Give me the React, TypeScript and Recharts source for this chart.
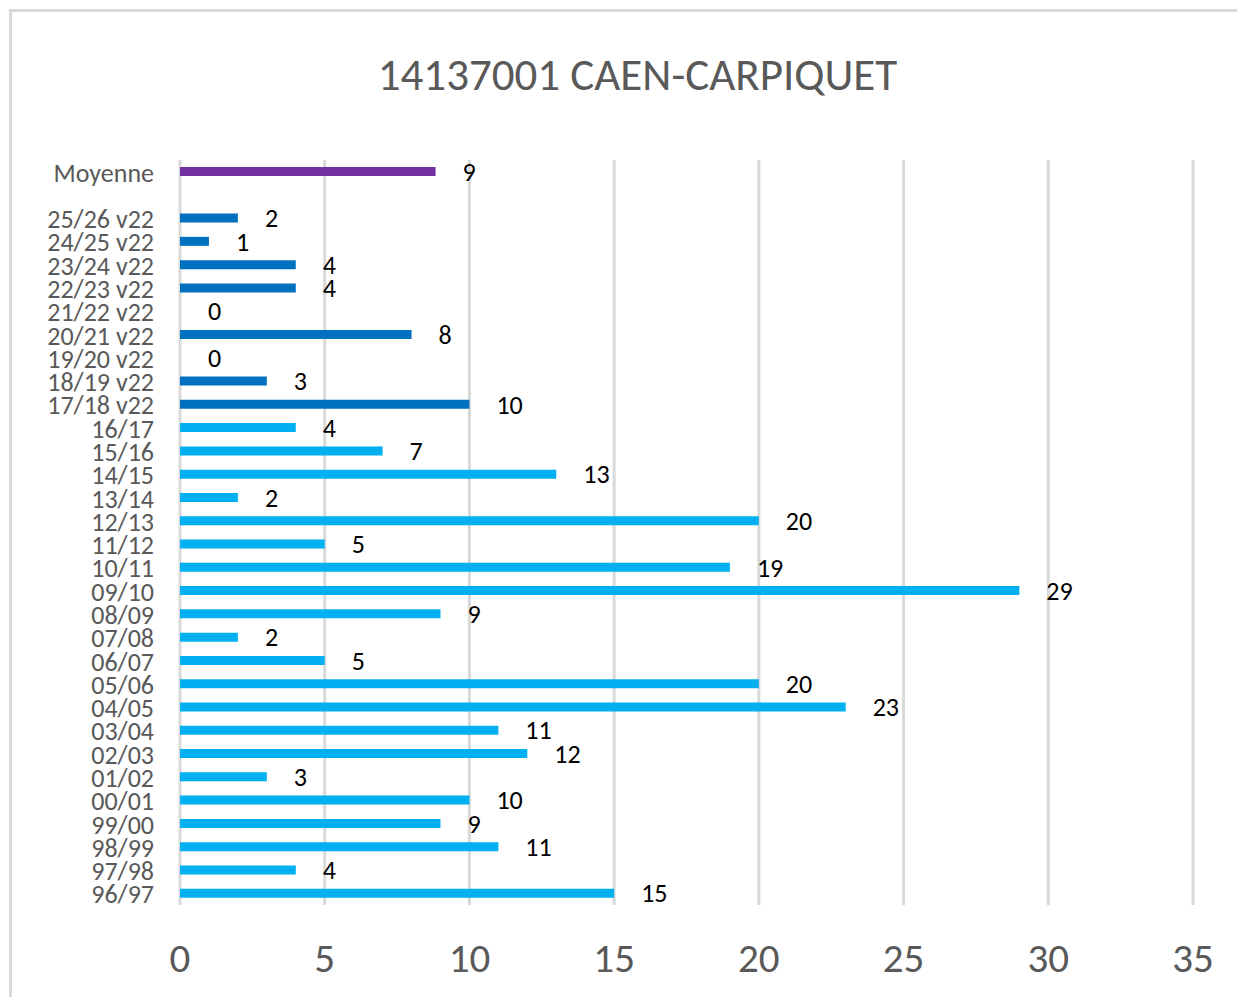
import React from 'react';
import {
  BarChart, Bar, XAxis, YAxis, CartesianGrid, Cell, LabelList,
} from 'recharts';

const seasons = [
  'Moyenne', ' ',
  '25/26 v22', '24/25 v22', '23/24 v22', '22/23 v22', '21/22 v22',
  '20/21 v22', '19/20 v22', '18/19 v22', '17/18 v22',
  '16/17', '15/16', '14/15', '13/14', '12/13', '11/12', '10/11', '09/10',
  '08/09', '07/08', '06/07', '05/06', '04/05', '03/04', '02/03', '01/02',
  '00/01', '99/00', '98/99', '97/98', '96/97',
];

const values: (number | null)[] = [
  8.83, null,
  2, 1, 4, 4, 0, 8, 0, 3, 10,
  4, 7, 13, 2, 20, 5, 19, 29, 9, 2, 5, 20, 23, 11, 12, 3, 10, 9, 11, 4, 15,
];

const xTicks = [0, 5, 10, 15, 20, 25, 30, 35];

const FONT = 'Carlito, Calibri, Lato, sans-serif';
const GREY = '#595959';

function barColor(name: string, v: number | null): string {
  if (!v) return 'transparent';
  if (name === 'Moyenne') return '#7030A0';
  if (name.includes('v22')) return '#0070C0';
  return '#00B0F0';
}

const data = seasons.map((name, i) => ({ name, value: values[i] }));

function CategoryTick(props: any) {
  const { y, payload } = props;
  return (
    <text x={154} y={y + 1} textAnchor="end" dominantBaseline="central"
      fontFamily={FONT} fontSize={26} fill={GREY}>
      {payload.value}
    </text>
  );
}

function ValueTick(props: any) {
  const { x, payload } = props;
  return (
    <text x={x} y={958} textAnchor="middle" dominantBaseline="central"
      fontFamily={FONT} fontSize={41} fill={GREY}>
      {payload.value}
    </text>
  );
}

export default function App() {
  return (
    <div style={{
      position: 'relative', margin: -8, width: 1245, height: 1005,
      overflow: 'hidden', background: '#fff',
    }}>
      <div style={{
        position: 'absolute', left: 9, top: 9, width: 1250, height: 1010,
        border: '3px solid #d9d9d9', boxSizing: 'border-box',
      }} />
      <div style={{
        position: 'absolute', left: 0, top: 48, width: 1275, textAlign: 'center',
        fontFamily: FONT, fontSize: 45, color: GREY, lineHeight: '54px',
      }}>
        14137001 CAEN-CARPIQUET
      </div>
      <BarChart
        width={1245}
        height={1005}
        data={data}
        layout="vertical"
        margin={{ top: 160, right: 52, bottom: 0, left: 0 }}
        barSize={9}
        style={{ position: 'absolute', left: 0, top: 0 }}
      >
        <CartesianGrid horizontal={false} stroke="#d9d9d9" strokeWidth={3} />
        <XAxis
          type="number"
          domain={[0, 35]}
          ticks={xTicks}
          axisLine={false}
          tickLine={false}
          height={100}
          tick={<ValueTick />}
        />
        <YAxis
          type="category"
          dataKey="name"
          width={180}
          axisLine={false}
          tickLine={false}
          interval={0}
          tick={<CategoryTick />}
        />
        <Bar dataKey="value" minPointSize={1} isAnimationActive={false}>
          {data.map((d) => (
            <Cell key={d.name} fill={barColor(d.name, d.value)} />
          ))}
          <LabelList
            dataKey="value"
            position="right"
            offset={27}
            fontFamily={FONT}
            fontSize={26}
            fill="#000"
            formatter={(v: any) => (v == null ? '' : String(Math.round(v)))}
          />
        </Bar>
      </BarChart>
    </div>
  );
}
